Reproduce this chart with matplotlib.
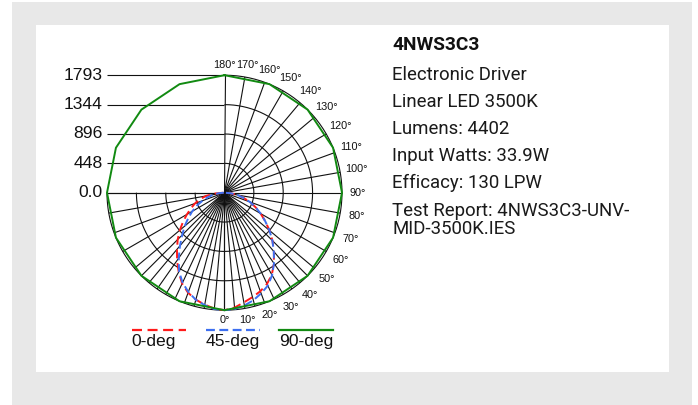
import numpy as np
import matplotlib
matplotlib.use("Agg")
import matplotlib.pyplot as plt
from matplotlib.patches import Rectangle
from matplotlib.lines import Line2D

W, H, DPI = 698, 405, 100

# ---------------- data ----------------
angles = [0, 5, 10, 15, 20, 25, 30, 35, 40, 45, 50, 55, 60, 65, 70, 75, 80, 85, 90]
red_right = [1793, 1760, 1700, 1650, 1600, 1535, 1445, 1315, 1172, 1035, 895, 760, 637, 522, 410, 300, 200, 100, 12]
red_left = [1793, 1775, 1735, 1690, 1625, 1530, 1398, 1262, 1128, 1010, 890, 772, 662, 565, 480, 390, 285, 150, 18]
blue_right = [1793, 1782, 1748, 1700, 1635, 1565, 1453, 1317, 1171, 1033, 895, 759, 637, 524, 411, 300, 200, 100, 10]
blue_left = [1793, 1782, 1742, 1692, 1612, 1515, 1386, 1217, 1057, 913, 794, 674, 568, 463, 357, 265, 175, 90, 10]
green_angles = [0, 22.5, 45, 67.5, 90, 112.5, 135, 157.5, 180]
green_right = [1793, 1793, 1793, 1793, 1793, 1793, 1793, 1793, 1793]
green_left = [1793, 1793, 1793, 1793, 1793, 1793, 1793, 1793, 1793]

r_ticks = [0, 448, 896, 1344, 1793]
r_labels = ["0.0", "448", "896", "1344", "1793"]
angle_labels = list(range(0, 181, 10))
spokes_lower = [0, 5, 10, 15, 20, 25, 30, 35, 40, 45, 50, 60, 70, 80, 90]
spokes_upper = [100, 110, 120, 130, 140, 150, 160, 170, 180]

series_names = ["0-deg", "45-deg", "90-deg"]
series_colors = ["#ff1a1a", "#3d6ff0", "#118a11"]
series_dashes = [(4.5, 2.5), (4.0, 2.0), None]

info_title = "4NWS3C3"
info_lines = ["Electronic Driver", "Linear LED 3500K", "Lumens: 4402",
              "Input Watts: 33.9W", "Efficacy: 130 LPW",
              "Test Report: 4NWS3C3-UNV-", "MID-3500K.IES"]

# ---------------- figure ----------------
fig = plt.figure(figsize=(W / DPI, H / DPI), dpi=DPI)
fig.patch.set_facecolor("white")

def fx(px):
    return px / W

def fy(py):
    return (H - py) / H

fig.patches.append(Rectangle((fx(12), fy(405)), fx(692) - fx(12), fy(2) - fy(405),
                             transform=fig.transFigure, facecolor="#e8e8e8",
                             edgecolor="none", zorder=-2))
fig.patches.append(Rectangle((fx(36), fy(372)), fx(669) - fx(36), fy(25) - fy(372),
                             transform=fig.transFigure, facecolor="white",
                             edgecolor="none", zorder=-1))

RMAX = r_ticks[-1]
cx, cy, Rpx = 224.5, 192.7, 117.5
scale = RMAX / Rpx
half = 2000 / scale
ax = fig.add_axes([fx(cx - half), fy(cy + half), 2 * half / W, 2 * half / H])
ax.set_zorder(3)
ax.set_xlim(-2000, 2000)
ax.set_ylim(-2000, 2000)
ax.axis("off")
ax.patch.set_alpha(0)

def pol(theta_deg, r, side=1):
    t = np.radians(np.asarray(theta_deg, dtype=float))
    r = np.asarray(r, dtype=float)
    return side * r * np.sin(t), -r * np.cos(t)

gk = dict(color="#111111", lw=0.8, zorder=2, solid_capstyle="butt")

# arcs: right side 0..180, left side 0..90
for rv in r_ticks[1:]:
    th = np.linspace(0, 180, 181)
    x, y = pol(th, np.full_like(th, rv))
    ax.plot(x, y, **gk)
    th = np.linspace(0, 90, 91)
    x, y = pol(th, np.full_like(th, rv), side=-1)
    ax.plot(x, y, **gk)

# spokes
for a in spokes_lower:
    for s in (1, -1):
        x, y = pol([a, a], [0, RMAX], side=s)
        ax.plot(x, y, **gk)
for a in spokes_upper:
    x, y = pol([a, a], [0, RMAX])
    ax.plot(x, y, **gk)

# horizontal level lines and labels
for rv, lab in zip(r_ticks, r_labels):
    ax.plot([-RMAX, 0], [rv, rv], **gk)
    ax.annotate(lab, (-RMAX, rv), xytext=(-4, 0), textcoords="offset pixels",
                ha="right", va="center", fontsize=12.6,
                family="Liberation Sans", color="#111111")

# angle labels
for a in angle_labels:
    t = np.radians(a)
    off = 6 + 10 * abs(np.sin(t)) + 4 * abs(np.cos(t))
    rr = RMAX + off * scale
    x, y = pol(a, rr)
    ax.text(x, y, f"{a}\u00b0", ha="center", va="center", fontsize=7.8,
            family="Liberation Sans", color="#111111")

# curves
def lobe(left, right, ang):
    xl, yl = pol(ang[::-1], left[::-1], side=-1)
    xr, yr = pol(ang, right, side=1)
    return np.concatenate([xl, xr]), np.concatenate([yl, yr])

curves = [lobe(red_left, red_right, angles),
          lobe(blue_left, blue_right, angles),
          lobe(green_left, green_right, green_angles)]
for (x, y), c, d in zip(curves, series_colors, series_dashes):
    ln, = ax.plot(x, y, color=c, lw=1.4, zorder=4)
    if d:
        ln.set_dashes(d)

# legend (handles above labels)
leg_x = [131.7, 206, 279.3]
for x0, name, c, d in zip(leg_x, series_names, series_colors, series_dashes):
    l = Line2D([fx(x0), fx(x0 + 54)], [fy(329.7), fy(329.7)], transform=fig.transFigure,
               color=c, lw=1.6, zorder=5)
    if d:
        l.set_dashes(d)
    fig.add_artist(l)
    fig.text(fx(x0), fy(346), name, ha="left", va="baseline", fontsize=12.6,
             family="Liberation Sans", color="#111111", zorder=5)

# info text
fig.text(fx(392), fy(50.5), info_title, ha="left", va="baseline", fontsize=13.8,
         family="Roboto", weight="bold", color="#111111", zorder=5)
bases = [80.0, 107.0, 134.0, 161.3, 188.5, 215.5, 234.5]
for b, t in zip(bases, info_lines):
    fig.text(fx(392), fy(b), t, ha="left", va="baseline", fontsize=13.4,
             family="Roboto", color="#1a1a1a", zorder=5)

fig.savefig("out.png", dpi=DPI)
